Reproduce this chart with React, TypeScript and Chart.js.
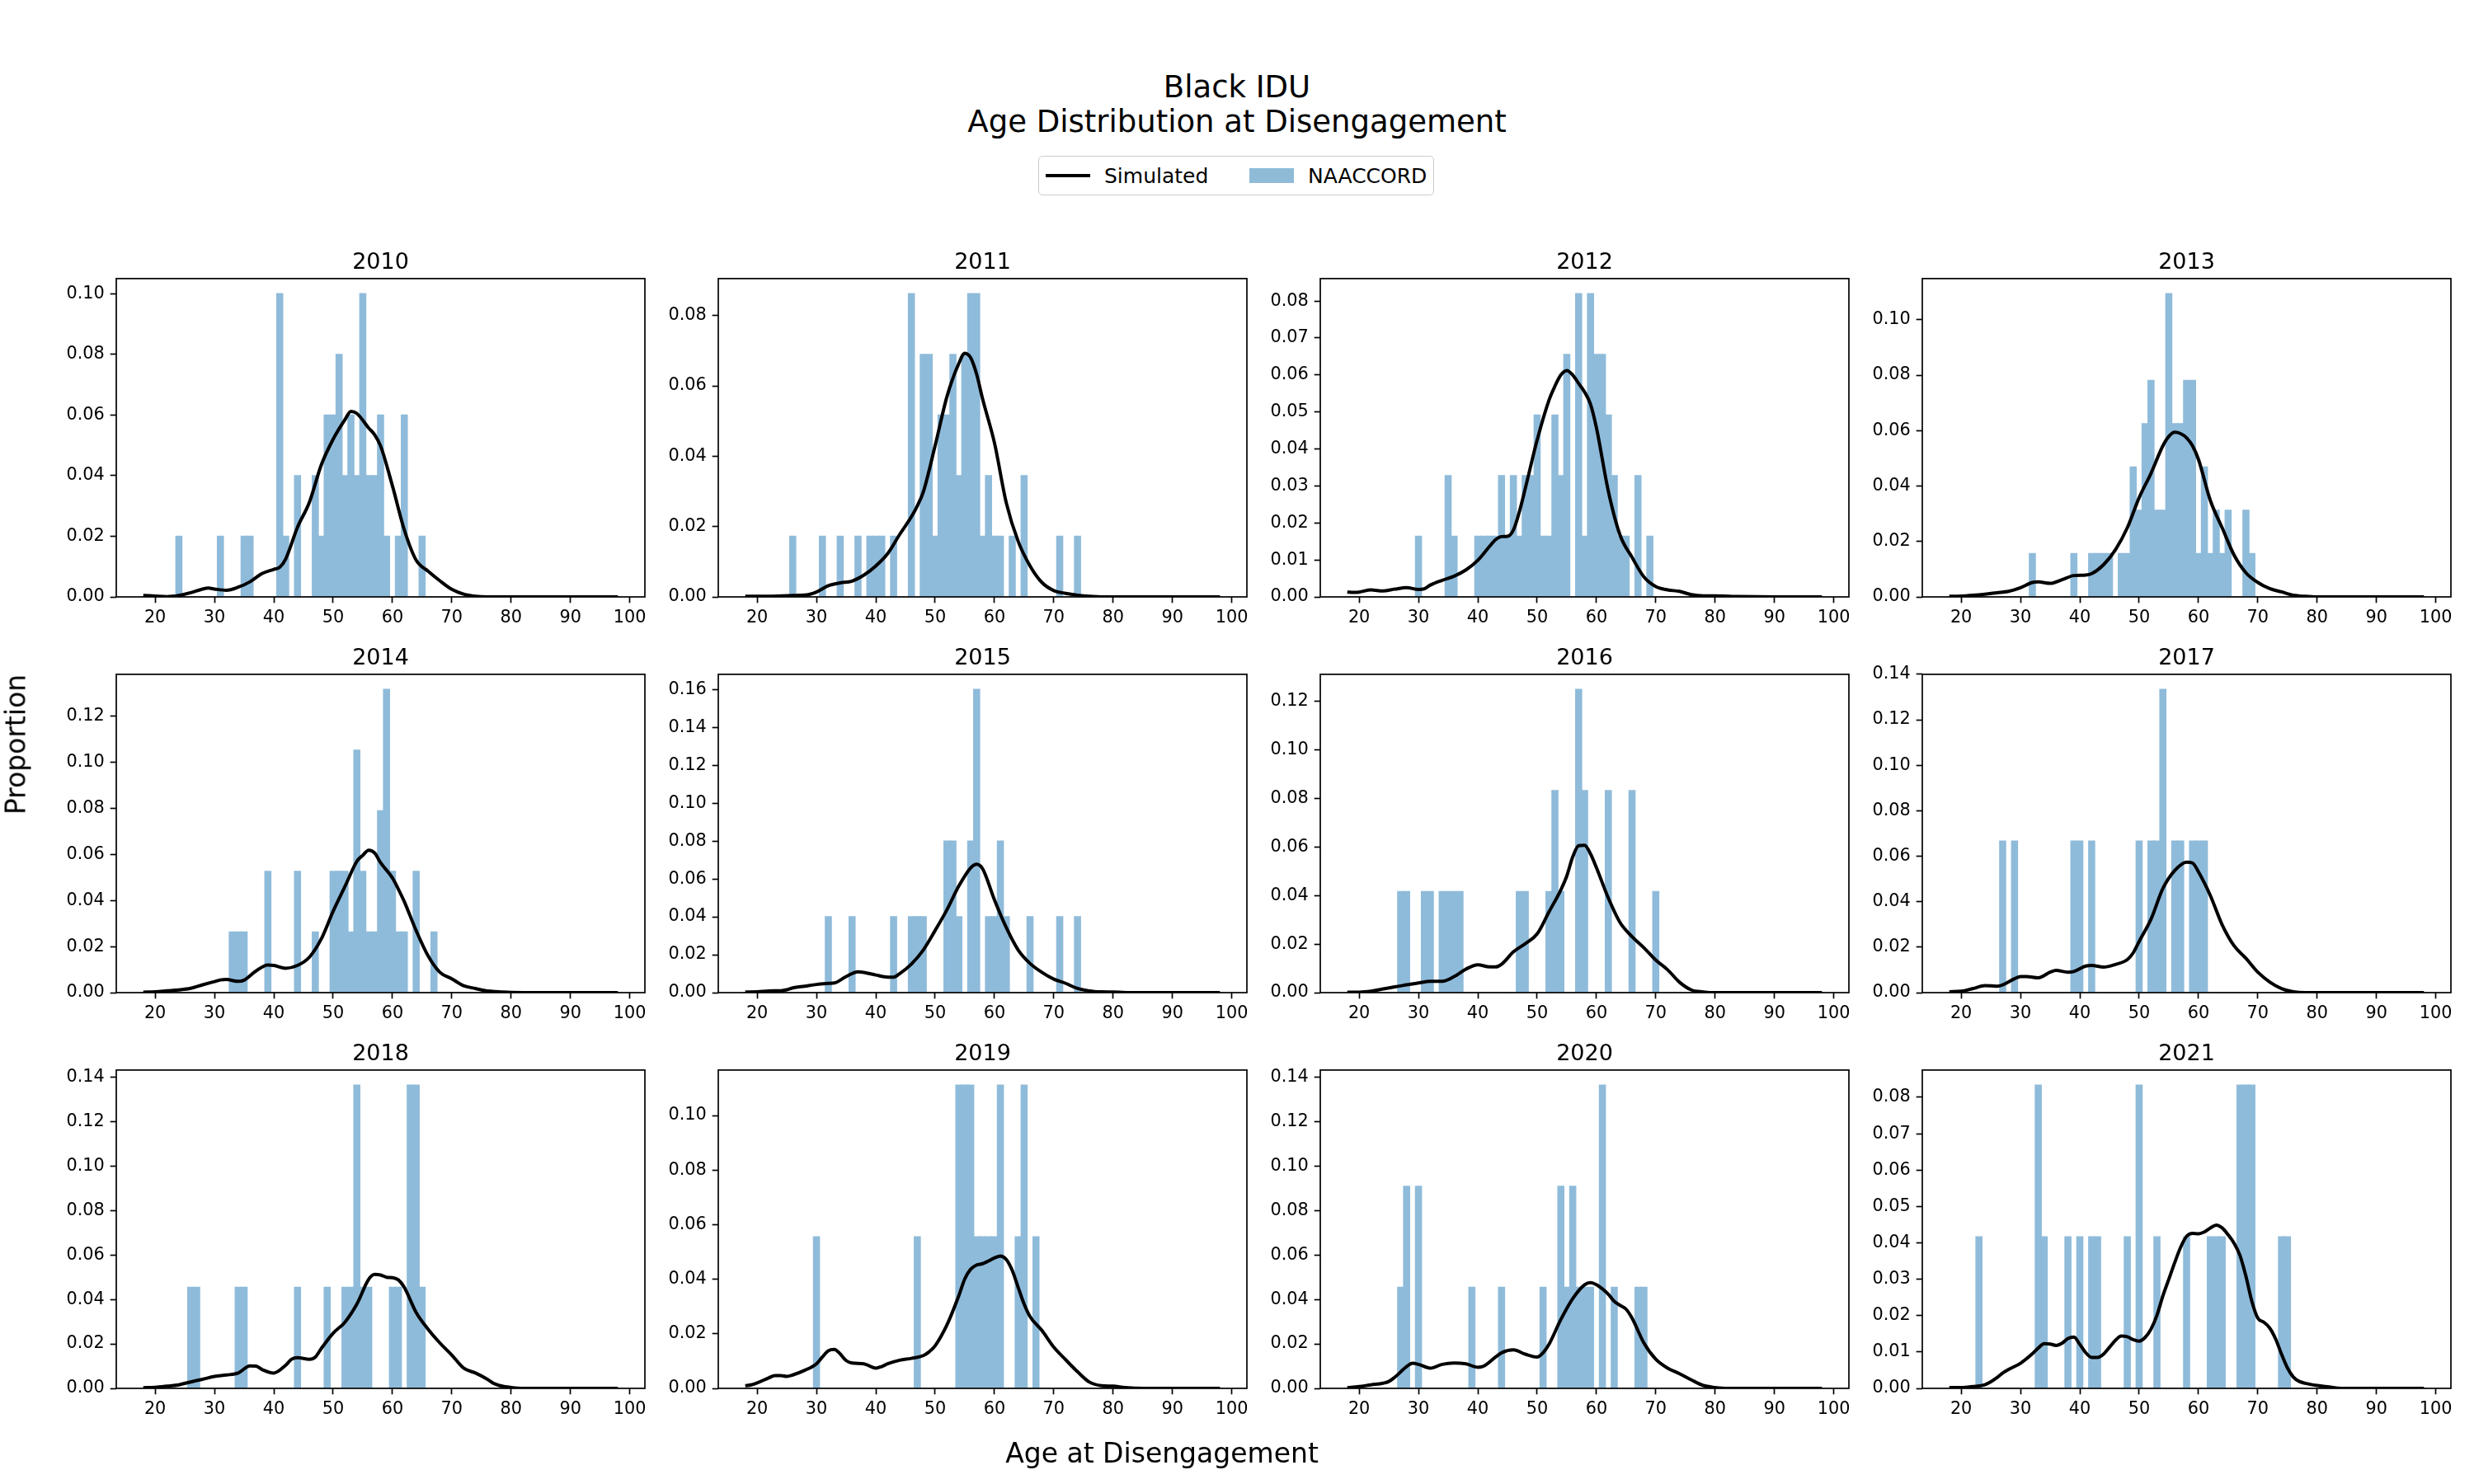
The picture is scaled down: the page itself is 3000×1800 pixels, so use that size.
import React, { useEffect, useRef } from 'react';
import { Chart, registerables } from 'chart.js';

Chart.register(...registerables);

// ---------------- data ----------------
const years = [2010, 2011, 2012, 2013, 2014, 2015, 2016, 2017, 2018, 2019, 2020, 2021];
const sampleSizes = [50, 58, 61, 64, 38, 25, 24, 15, 22, 18, 22, 24];
const xTicks = [20, 30, 40, 50, 60, 70, 80, 90, 100];
const yTickSteps = [0.02, 0.02, 0.01, 0.02, 0.02, 0.02, 0.02, 0.02, 0.02, 0.02, 0.02, 0.01];
const yTickTops = [0.10, 0.08, 0.08, 0.10, 0.12, 0.16, 0.12, 0.14, 0.14, 0.10, 0.14, 0.08];
const binFirstAge = 18;
const binLastAge = 98;

// NAACCORD histogram: [age, count]
const hist2010 = [[24,1],[31,1],[35,1],[36,1],[41,5],[42,1],[44,2],[47,2],[48,1],[49,3],[50,3],[51,4],[52,2],[53,3],[54,2],[55,5],[56,2],[57,2],[58,3],[59,1],[61,1],[62,3],[65,1]];
const hist2011 = [[26,1],[31,1],[34,1],[37,1],[39,1],[40,1],[41,1],[43,1],[46,5],[48,4],[49,4],[50,1],[51,3],[52,3],[53,4],[54,2],[55,4],[56,5],[57,5],[58,1],[59,2],[60,1],[61,1],[63,1],[65,2],[71,1],[74,1]];
const hist2012 = [[30,1],[35,2],[36,1],[40,1],[41,1],[42,1],[43,1],[44,2],[45,1],[46,2],[47,1],[48,2],[49,2],[50,3],[51,1],[52,1],[53,3],[54,2],[55,4],[57,5],[58,1],[59,5],[60,4],[61,4],[62,3],[63,2],[64,1],[65,1],[67,2],[69,1]];
const hist2013 = [[32,1],[39,1],[42,1],[43,1],[44,1],[45,1],[47,1],[48,1],[49,3],[50,2],[51,4],[52,5],[53,2],[54,2],[55,7],[56,4],[57,4],[58,5],[59,5],[60,1],[61,3],[62,1],[63,2],[64,1],[65,2],[68,2],[69,1]];
const hist2014 = [[33,1],[34,1],[35,1],[39,2],[44,2],[47,1],[50,2],[51,2],[52,2],[53,1],[54,4],[55,2],[56,1],[57,1],[58,3],[59,5],[60,2],[61,1],[62,1],[64,2],[67,1]];
const hist2015 = [[32,1],[36,1],[43,1],[46,1],[47,1],[48,1],[52,2],[53,2],[54,1],[56,2],[57,4],[59,1],[60,1],[61,2],[62,1],[66,1],[71,1],[74,1]];
const hist2016 = [[27,1],[28,1],[31,1],[32,1],[34,1],[35,1],[36,1],[37,1],[47,1],[48,1],[52,1],[53,2],[54,1],[57,3],[58,2],[62,2],[66,2],[70,1]];
const hist2017 = [[27,1],[29,1],[39,1],[40,1],[42,1],[50,1],[52,1],[53,1],[54,2],[56,1],[57,1],[59,1],[60,1],[61,1]];
const hist2018 = [[26,1],[27,1],[34,1],[35,1],[44,1],[49,1],[52,1],[53,1],[54,3],[55,1],[56,1],[60,1],[61,1],[63,3],[64,3],[65,1]];
const hist2019 = [[30,1],[47,1],[54,2],[55,2],[56,2],[57,1],[58,1],[59,1],[60,1],[61,2],[64,1],[65,2],[67,1]];
const hist2020 = [[27,1],[28,2],[30,2],[39,1],[44,1],[51,1],[54,2],[55,1],[56,2],[57,1],[58,1],[59,1],[61,3],[63,1],[67,1],[68,1]];
const hist2021 = [[23,1],[33,2],[34,1],[38,1],[40,1],[42,1],[43,1],[48,1],[50,2],[53,1],[58,1],[62,1],[63,1],[64,1],[67,2],[68,2],[69,2],[74,1],[75,1]];

// Simulated density: [age, density]
const kde2010 = [[18,0.0005],[20,0.0003],[22,0.0001],[24,0.0005],[26,0.0014],[28,0.0026],[29,0.0029],[30,0.0026],[32,0.0022],[34,0.0032],[36,0.005],[38,0.0077],[40,0.0091],[41,0.0098],[42,0.0125],[44,0.023],[46,0.0312],[48,0.0435],[50,0.052],[52,0.0585],[53,0.0612],[54,0.0605],[56,0.0557],[57,0.0535],[58,0.0498],[60,0.0366],[62,0.0221],[64,0.0121],[66,0.0085],[68,0.0053],[70,0.0025],[72,0.0009],[74,0.0002],[76,0],[80,0],[85,0],[90,0],[95,0],[98,0]];
const kde2011 = [[18,0.0002],[22,0.0002],[26,0.0004],[28,0.0005],[30,0.0014],[32,0.0032],[34,0.004],[36,0.0045],[38,0.0062],[40,0.0088],[42,0.0123],[44,0.0177],[46,0.0228],[47,0.0259],[48,0.0298],[50,0.043],[52,0.057],[54,0.0664],[55,0.0693],[56,0.068],[57,0.0633],[58,0.0563],[60,0.0438],[62,0.0267],[64,0.0158],[66,0.0088],[68,0.0041],[70,0.0018],[72,0.001],[74,0.0005],[76,0.0002],[80,0],[85,0],[90,0],[95,0],[98,0]];
const kde2012 = [[18,0.0013],[19,0.0012],[20,0.0013],[22,0.0019],[24,0.0016],[26,0.0021],[28,0.0025],[30,0.002],[31,0.0022],[32,0.0032],[34,0.0045],[36,0.0056],[38,0.0073],[40,0.0099],[42,0.0137],[43,0.0155],[44,0.0163],[45,0.0164],[46,0.0181],[47,0.023],[48,0.0293],[50,0.0424],[52,0.0532],[53,0.057],[54,0.06],[55,0.0612],[56,0.06],[57,0.0577],[58,0.0554],[59,0.0521],[60,0.0457],[62,0.0286],[64,0.0166],[66,0.0107],[68,0.0054],[70,0.0028],[72,0.0019],[74,0.0015],[76,0.0006],[78,0.0003],[80,0.0003],[84,0.0001],[90,0],[95,0],[98,0]];
const kde2013 = [[18,0.0002],[20,0.0003],[22,0.0006],[24,0.001],[26,0.0015],[28,0.002],[30,0.0033],[32,0.0052],[33,0.0054],[35,0.0049],[37,0.0062],[39,0.0077],[41,0.0079],[42,0.0084],[44,0.0116],[46,0.017],[48,0.0249],[50,0.0358],[52,0.0446],[54,0.0545],[55,0.0579],[56,0.0594],[57,0.0589],[58,0.0574],[59,0.0545],[60,0.0496],[62,0.0348],[64,0.0249],[66,0.0151],[68,0.0087],[70,0.0052],[72,0.003],[74,0.0018],[76,0.0006],[78,0.0002],[80,0],[85,0],[90,0],[95,0],[98,0]];
const kde2014 = [[18,0.0002],[20,0.0004],[22,0.0008],[24,0.0012],[26,0.0019],[28,0.0034],[30,0.0048],[31,0.0055],[32,0.0057],[34,0.0049],[35,0.0054],[37,0.0094],[39,0.012],[40,0.0118],[42,0.0106],[44,0.0118],[46,0.0154],[48,0.0233],[50,0.0353],[52,0.0461],[54,0.057],[55,0.0596],[56,0.0618],[57,0.0606],[58,0.0564],[60,0.0498],[61,0.0449],[62,0.0395],[64,0.0269],[66,0.016],[68,0.0088],[70,0.006],[72,0.003],[74,0.0018],[76,0.0007],[78,0.0004],[80,0.0001],[85,0],[90,0],[95,0],[98,0]];
const kde2015 = [[18,0.0003],[20,0.0004],[22,0.0009],[24,0.001],[25,0.0015],[26,0.0025],[28,0.0034],[30,0.0043],[32,0.0049],[33,0.0051],[35,0.0085],[37,0.011],[38,0.0107],[40,0.0093],[42,0.0082],[43,0.0082],[44,0.01],[46,0.0151],[48,0.0225],[50,0.0328],[52,0.0438],[54,0.0563],[56,0.0659],[57,0.0678],[58,0.0654],[60,0.049],[62,0.0343],[64,0.0225],[66,0.0154],[68,0.0107],[70,0.0071],[72,0.0049],[74,0.0022],[76,0.0009],[78,0.0004],[80,0.0003],[84,0],[90,0],[95,0],[98,0]];
const kde2016 = [[18,0.0002],[20,0.0002],[22,0.0006],[24,0.0015],[26,0.0024],[28,0.0032],[30,0.004],[32,0.0047],[34,0.0047],[36,0.0066],[38,0.0097],[40,0.0115],[42,0.0106],[43,0.0106],[44,0.0117],[46,0.0168],[48,0.0202],[50,0.0242],[52,0.0333],[54,0.0424],[55,0.0481],[56,0.056],[57,0.0606],[58,0.0608],[59,0.0572],[60,0.0515],[62,0.039],[64,0.0288],[66,0.0231],[68,0.0185],[70,0.0134],[72,0.0094],[74,0.0043],[76,0.0011],[78,0.0003],[80,0],[85,0],[90,0],[95,0],[98,0]];
const kde2017 = [[18,0.0004],[20,0.0006],[22,0.0018],[24,0.0031],[26,0.0028],[27,0.0034],[29,0.0061],[30,0.0071],[31,0.0071],[33,0.0065],[35,0.009],[36,0.0098],[38,0.009],[39,0.0093],[41,0.0117],[42,0.012],[44,0.0112],[46,0.0124],[48,0.0145],[49,0.0175],[50,0.0225],[52,0.0323],[54,0.0458],[56,0.0537],[58,0.0574],[59,0.057],[60,0.0531],[62,0.0427],[64,0.0298],[66,0.0206],[68,0.0151],[70,0.009],[72,0.0047],[74,0.0018],[76,0.0004],[78,0],[85,0],[90,0],[95,0],[98,0]];
const kde2018 = [[18,0.0003],[20,0.0005],[22,0.001],[24,0.0016],[26,0.0029],[28,0.0041],[30,0.0054],[32,0.006],[34,0.0069],[36,0.0101],[37,0.01],[38,0.0085],[40,0.0069],[42,0.0104],[43,0.0131],[44,0.0138],[46,0.0131],[47,0.0141],[48,0.0179],[50,0.0248],[52,0.0298],[54,0.0379],[56,0.0491],[57,0.0513],[58,0.051],[59,0.05],[60,0.0498],[61,0.0488],[62,0.0454],[64,0.0341],[66,0.0266],[68,0.0204],[70,0.015],[72,0.0091],[74,0.0069],[76,0.0041],[77,0.0023],[78,0.0013],[80,0.0004],[82,0],[85,0],[90,0],[95,0],[98,0]];
const kde2019 = [[18,0.001],[19,0.0013],[20,0.002],[22,0.0039],[23,0.0047],[24,0.0047],[25,0.0044],[26,0.0049],[28,0.0066],[30,0.009],[31,0.0115],[32,0.0138],[33,0.0143],[34,0.0126],[35,0.0102],[36,0.0093],[38,0.009],[40,0.0074],[41,0.008],[42,0.009],[44,0.0103],[46,0.011],[48,0.012],[49,0.0134],[50,0.0156],[52,0.0233],[54,0.034],[55,0.0401],[56,0.0437],[57,0.0452],[58,0.0457],[59,0.0467],[60,0.0478],[61,0.0485],[62,0.0472],[63,0.0432],[64,0.037],[65,0.0309],[66,0.0263],[68,0.0212],[70,0.0151],[72,0.0105],[74,0.0061],[76,0.0023],[78,0.001],[80,0.0008],[82,0.0003],[85,0],[90,0],[95,0],[98,0]];
const kde2020 = [[18,0.0003],[20,0.0008],[22,0.0016],[24,0.0023],[25,0.0031],[26,0.005],[28,0.0098],[29,0.0113],[30,0.0108],[32,0.0091],[34,0.0108],[36,0.0114],[38,0.011],[40,0.0095],[41,0.01],[43,0.0141],[44,0.016],[46,0.0173],[48,0.0154],[50,0.0141],[51,0.016],[52,0.0198],[54,0.031],[56,0.0404],[58,0.0466],[59,0.0476],[60,0.0466],[62,0.0423],[63,0.0391],[64,0.0373],[65,0.0356],[66,0.0316],[68,0.0204],[70,0.0131],[72,0.0091],[74,0.0066],[76,0.0038],[78,0.0013],[80,0.0004],[82,0],[85,0],[90,0],[95,0],[98,0]];
const kde2021 = [[18,0.0002],[20,0.0002],[22,0.0005],[24,0.001],[25,0.0018],[26,0.0029],[27,0.0042],[28,0.0052],[30,0.0069],[32,0.0095],[33,0.0111],[34,0.0123],[35,0.0122],[36,0.0118],[37,0.0124],[38,0.0137],[39,0.0141],[40,0.0121],[41,0.0098],[42,0.0085],[43,0.0085],[44,0.0094],[45,0.0113],[46,0.0132],[47,0.0144],[48,0.0142],[49,0.0134],[50,0.013],[51,0.014],[52,0.0163],[53,0.0201],[54,0.0254],[55,0.03],[56,0.0346],[57,0.0388],[58,0.0418],[59,0.0426],[60,0.0425],[61,0.043],[62,0.0441],[63,0.0449],[64,0.0441],[65,0.0422],[66,0.0399],[67,0.0365],[68,0.0308],[69,0.0239],[70,0.0193],[71,0.0182],[72,0.0166],[73,0.0136],[74,0.0094],[75,0.0056],[76,0.0031],[77,0.0019],[78,0.0014],[80,0.0008],[82,0.0004],[84,0],[90,0],[95,0],[98,0]];

const histograms = [hist2010, hist2011, hist2012, hist2013, hist2014, hist2015, hist2016, hist2017, hist2018, hist2019, hist2020, hist2021];
const densities = [kde2010, kde2011, kde2012, kde2013, kde2014, kde2015, kde2016, kde2017, kde2018, kde2019, kde2020, kde2021];

// ---------------- layout / style ----------------
const FONT = "'DejaVu Sans', 'Liberation Sans', sans-serif";
const colLeft = [141, 871, 1601, 2331];
const rowTop = [338, 818, 1298];
const AX_W = 641;
const AX_H = 386.5;
const Y_AXIS_W = 140;
const X_AXIS_H = 70;
const RIGHT_PAD = 30;
const TITLE_SIZE = 27;
const TITLE_PAD = 2.5;
const TITLE_H = TITLE_SIZE * 1.2 + TITLE_PAD;
const TICK_SIZE = 20.8;
const BAR_COLOR = 'rgb(143,187,218)';
const LEGEND_BAR_COLOR = 'rgba(31,119,180,0.5)';

const framePlugin = {
  id: 'frame',
  afterDatasetsDraw(chart: any) {
    const { ctx, chartArea: a } = chart;
    ctx.save();
    ctx.strokeStyle = '#000';
    ctx.lineWidth = 1.7;
    ctx.strokeRect(a.left, a.top, a.right - a.left, a.bottom - a.top);
    ctx.restore();
  },
};

function Panel({ idx }: { idx: number }) {
  const ref = useRef<HTMLCanvasElement | null>(null);
  const col = idx % 4;
  const row = Math.floor(idx / 4);
  const left = colLeft[col] - Y_AXIS_W;
  const top = Math.round(rowTop[row] - TITLE_H);
  const width = Y_AXIS_W + AX_W + RIGHT_PAD;
  const height = Math.round(TITLE_H + AX_H + X_AXIS_H);

  useEffect(() => {
    const n = sampleSizes[idx];
    const counts = new Map<number, number>();
    histograms[idx].forEach(([a, c]) => counts.set(a, c));
    const bars: { x: number; y: number }[] = [];
    for (let a = binFirstAge; a <= binLastAge; a++) {
      bars.push({ x: a, y: (counts.get(a) || 0) / n });
    }
    const line = densities[idx].map(([x, y]) => ({ x, y }));
    const maxVal = Math.max(...bars.map((b) => b.y), ...line.map((p) => p.y));
    const yMax = maxVal * 1.05;
    const step = yTickSteps[idx];
    const yTicks: number[] = [];
    for (let k = 0; k * step <= yTickTops[idx] + 1e-9; k++) yTicks.push(+(k * step).toFixed(4));

    const chart = new Chart(ref.current as HTMLCanvasElement, {
      type: 'bar',
      data: {
        datasets: [
          {
            type: 'line',
            label: 'Simulated',
            data: line,
            borderColor: '#000',
            borderWidth: 4,
            pointRadius: 0,
            fill: false,
            cubicInterpolationMode: 'monotone',
            order: 0,
          } as any,
          {
            type: 'bar',
            label: 'NAACCORD',
            data: bars,
            backgroundColor: BAR_COLOR,
            borderWidth: 0,
            barPercentage: 1,
            categoryPercentage: 1,
            inflateAmount: 0.7,
            order: 1,
          } as any,
        ],
      },
      options: {
        responsive: false,
        animation: false,
        devicePixelRatio: 1,
        layout: { padding: { left: 0, top: 0, bottom: 0, right: RIGHT_PAD } },
        plugins: {
          legend: { display: false },
          tooltip: { enabled: false },
          title: {
            display: true,
            fullSize: false,
            text: String(years[idx]),
            color: '#000',
            font: { family: FONT, size: TITLE_SIZE, weight: 'normal' as any, lineHeight: 1.2 },
            padding: { top: 0, bottom: TITLE_PAD },
          },
        },
        scales: {
          x: {
            type: 'linear',
            offset: false,
            min: 13.45,
            max: 102.55,
            grid: { display: true, drawOnChartArea: false, drawTicks: true, tickLength: 7.3, tickWidth: 1.7, tickColor: '#000', offset: false },
            border: { display: false },
            ticks: {
              color: '#000',
              font: { family: FONT, size: TICK_SIZE },
              padding: 6,
              autoSkip: false,
              maxRotation: 0,
              callback: (v: any) => String(v),
            },
            afterBuildTicks: (s: any) => {
              s.ticks = xTicks.map((v) => ({ value: v }));
            },
            afterFit: (s: any) => {
              s.height = X_AXIS_H;
            },
          },
          y: {
            type: 'linear',
            min: 0,
            max: yMax,
            grid: { display: true, drawOnChartArea: false, drawTicks: true, tickLength: 7.3, tickWidth: 1.7, tickColor: '#000' },
            border: { display: false },
            ticks: {
              color: '#000',
              font: { family: FONT, size: TICK_SIZE },
              padding: 7,
              autoSkip: false,
              callback: (v: any) => Number(v).toFixed(2),
            },
            afterBuildTicks: (s: any) => {
              s.ticks = yTicks.map((v) => ({ value: v }));
            },
            afterFit: (s: any) => {
              s.width = Y_AXIS_W;
            },
          },
        },
      },
      plugins: [framePlugin],
    });
    return () => chart.destroy();
  }, [idx]);

  return (
    <canvas
      ref={ref}
      width={width}
      height={height}
      style={{ position: 'absolute', left, top, width, height }}
    />
  );
}

export default function App() {
  const textBase: React.CSSProperties = {
    position: 'absolute',
    fontFamily: FONT,
    color: '#000',
    whiteSpace: 'nowrap',
    lineHeight: 1,
  };
  return (
    <div
      style={{
        position: 'fixed',
        left: 0,
        top: 0,
        width: 3000,
        height: 1800,
        background: '#fff',
        overflow: 'hidden',
      }}
    >
      <div style={{ ...textBase, left: 1500, top: 105, fontSize: 37, transform: 'translate(-50%, -50%)' }}>Black IDU</div>
      <div style={{ ...textBase, left: 1500, top: 147, fontSize: 37, transform: 'translate(-50%, -50%)' }}>
        Age Distribution at Disengagement
      </div>

      <div
        style={{
          position: 'absolute',
          left: 1259,
          top: 189,
          width: 480,
          height: 48,
          boxSizing: 'border-box',
          border: '1.7px solid #cccccc',
          borderRadius: 5,
          background: '#fff',
        }}
      >
        <div style={{ position: 'absolute', left: 8, top: 21, width: 54, height: 4, background: '#000' }} />
        <div style={{ ...textBase, left: 79, top: 23, fontSize: 25, transform: 'translateY(-50%)' }}>Simulated</div>
        <div style={{ position: 'absolute', left: 255, top: 14, width: 54, height: 18, background: LEGEND_BAR_COLOR }} />
        <div style={{ ...textBase, left: 326, top: 23, fontSize: 25, transform: 'translateY(-50%)' }}>NAACCORD</div>
      </div>

      {years.map((y, i) => (
        <Panel key={y} idx={i} />
      ))}

      <div style={{ ...textBase, left: 1409, top: 1762, fontSize: 33, transform: 'translate(-50%, -50%)' }}>
        Age at Disengagement
      </div>
      <div
        style={{
          ...textBase,
          left: 19,
          top: 903,
          fontSize: 33,
          transform: 'translate(-50%, -50%) rotate(-90deg)',
        }}
      >
        Proportion
      </div>
    </div>
  );
}
